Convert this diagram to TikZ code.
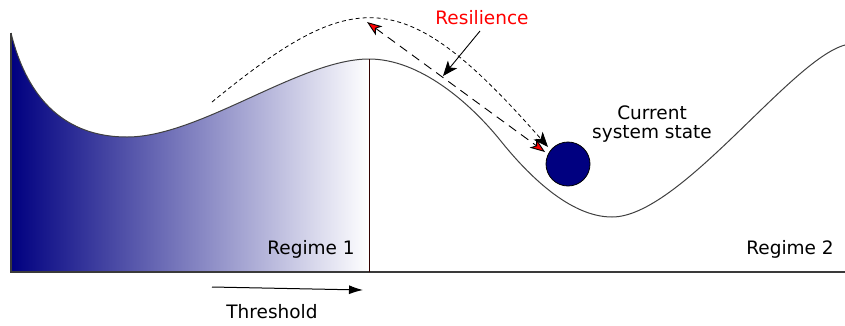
\documentclass[tikz,border=0pt]{standalone}
\usepackage{fontspec}
\setmainfont{DejaVu Sans}
\usetikzlibrary{arrows.meta}
\definecolor{navyb}{HTML}{000080}
\definecolor{curvec}{HTML}{404040}
\begin{document}
\begin{tikzpicture}[x=1pt,y=-1pt,
  lbl/.style={font=\fontsize{18.5}{22}\selectfont, text=black, inner sep=0pt, align=center},
  curveline/.style={draw=curvec, line width=1pt},
  axisline/.style={draw=curvec!90!black, line width=1.5pt}]
\useasboundingbox (0,0) rectangle (845,325);
% gradient fill of regime 1
\shade[left color=navyb, right color=white]
  (11,272) -- (11,33) .. controls (30,110) and (75,137) .. (127,137)
  .. controls (200,137) and (300,59) .. (369,59) -- (369,272) -- cycle;
% landscape curve
\draw[curveline] (11,33) .. controls (30,110) and (75,137) .. (127,137)
  .. controls (200,137) and (300,59) .. (369,59)
  .. controls (420,59) and (470,103) .. (500,140)
  .. controls (528,175) and (570,217) .. (612,217)
  .. controls (680,217) and (790,60) .. (845,45);
% axes
\draw[axisline] (11,33) -- (11,272) -- (845,272);
\draw[draw=black!80!red, line width=1pt] (369,59) -- (369,272);
% ball
\node[circle, draw=black, fill=navyb, line width=0.8pt, minimum size=44pt, inner sep=0pt] (ball) at (568,164) {};
% coordinates
\coordinate (arcstart) at (212,102);
\coordinate (arcend) at (548,147);
\coordinate (sa) at (367,22);
\coordinate (sb) at (545,152);
\coordinate (resfrom) at (480,31);
\coordinate (restip) at (443,76);
\coordinate (thA) at (212,287);
\coordinate (thB) at (363,290);
% dashed arc
\draw[black, line width=0.8pt, dash pattern=on 4pt off 3pt, -{Stealth[length=15pt, width=12pt, inset=4pt]}]
  (arcstart) .. controls (355,-15) and (404,-17) .. (arcend);
% straight resilience double arrow
\draw[black, line width=0.9pt, dash pattern=on 9pt off 6pt,
  {Stealth[fill=red, length=15pt, width=11pt, inset=4pt]}-{Stealth[fill=red, length=15pt, width=11pt, inset=4pt]}]
  (sa) -- (sb);
% labels
\node[lbl, text=red] (res) at (482,18) {Resilience};
\draw[black, line width=0.9pt, -{Stealth[length=15pt, width=12pt, inset=4pt]}] (resfrom) -- (restip);
\node[lbl] (cur) at (652,124) {Current\\[-3pt]system state};
\node[lbl] (r1) at (311,249) {Regime 1};
\node[lbl] (r2) at (790,249) {Regime 2};
\draw[black, line width=1pt, -{Latex[length=14pt, width=9pt]}] (thA) -- (thB);
\node[lbl] (th) at (272,312) {Threshold};
\end{tikzpicture}
\end{document}
